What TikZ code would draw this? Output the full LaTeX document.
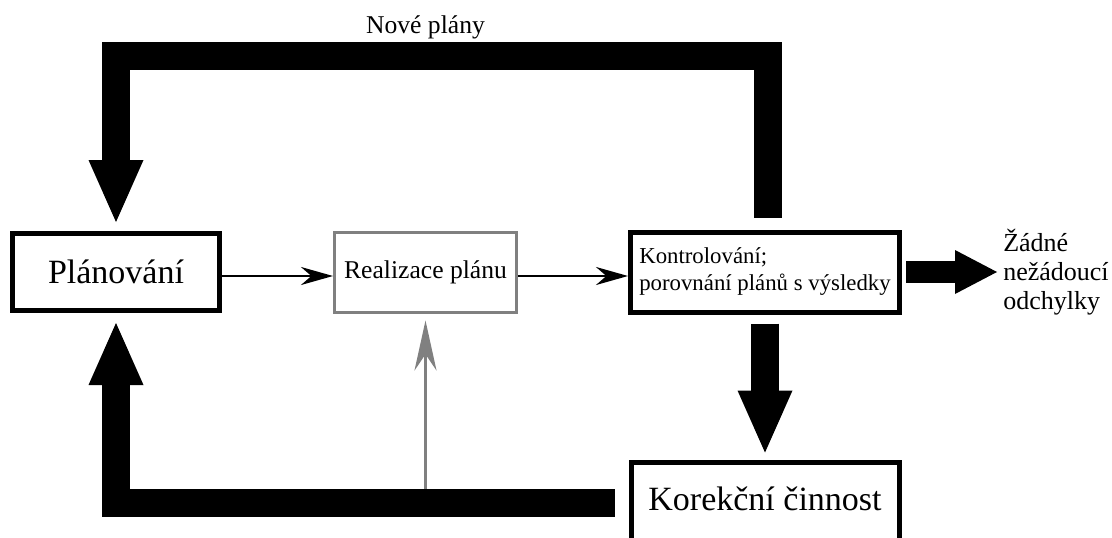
\documentclass[tikz,border=0pt]{standalone}
\usepackage{fontspec}
\setmainfont{Liberation Serif}
\newfontfamily\tnr{Liberation Serif}
\usepackage{tikz}
\usetikzlibrary{positioning}
\usetikzlibrary{arrows.meta}
\definecolor{midgray}{rgb}{0.5,0.5,0.5}

\begin{document}
\begin{tikzpicture}[
            x = 1pt, y = -1pt, % pixel units, y going down
            thin arrow/.style = {line width=2.5pt, -{Stealth[length=32pt,width=18pt]}},
            gray arrow/.style = {midgray, line width=3pt, -{Stealth[length=50pt,width=22pt]}},
            big arrow/.style = {line width=28pt, -{Triangle[length=62pt,width=55pt,line width=0pt]}},
            semithick
        ]

        \tikzstyle{box}=[
            draw,
            line width = 5pt,
            align = left
        ]

        \useasboundingbox (0,0) rectangle (1112,538);
        \clip (0,0) rectangle (1112,538);
        \fill[white] (0,0) rectangle (1112,538);

        % boxes
        \node[box, minimum width=207pt, minimum height=77pt, font=\tnr\fontsize{34}{40}\selectfont] (P) at (116,272) {Plánování};
        \node[box, draw=midgray, line width=3pt, minimum width=182pt, minimum height=80pt, font=\tnr\fontsize{25.6}{30}\selectfont] (R) [right=111pt of P] {Realizace plánu};
        \node[box, minimum width=269pt, minimum height=80pt, font=\tnr\fontsize{22.8}{27}\selectfont] (K) [right=110pt of R] {Kontrolování;\\porovnání plánů s výsledky};
        \node[box, minimum width=268pt, text height=24pt, text depth=60pt, inner ysep=24.5pt, font=\tnr\fontsize{34}{40}\selectfont] (KC) [below=145pt of K] {Korekční činnost};
        \node[inner sep=3pt, align=left, font=\tnr\fontsize{26}{29}\selectfont] (Z) [right=98pt of K] {Žádné\\nežádoucí\\odchylky};

        % bends of the loops
        \coordinate (T) at (425.5,56);
        \coordinate (B) at (425.5,502.5);
        \node[inner sep=3pt, font=\tnr\fontsize{25.6}{30}\selectfont] (NP) [above=14pt of T] {Nové plány};

        % flow
        \draw[thin arrow] ([yshift=-4pt]P.east) -- ([yshift=-4pt]R.west);
        \draw[thin arrow] ([yshift=-4pt]R.east) -- ([yshift=-4pt]K.west);
        \draw[gray arrow, shorten >=7pt] ([yshift=14pt]B) -- (R.south);

        % feedback
        \draw[big arrow] ([xshift=3pt,yshift=12pt]K.north) |- (T) -| ([yshift=9pt]P.north);
        \draw[big arrow, shorten <=9pt, shorten >=7pt] (K.south) -- (KC.north);
        \draw[big arrow, line width=22pt, -{Triangle[length=42pt,width=44pt,line width=0pt]}, shorten <=4pt, shorten >=3pt] (K.east) -- (Z.west);
        \draw[big arrow, shorten <=14pt] (B -| KC.west) -| ([yshift=-10pt]P.south);

\end{tikzpicture}
\end{document}
